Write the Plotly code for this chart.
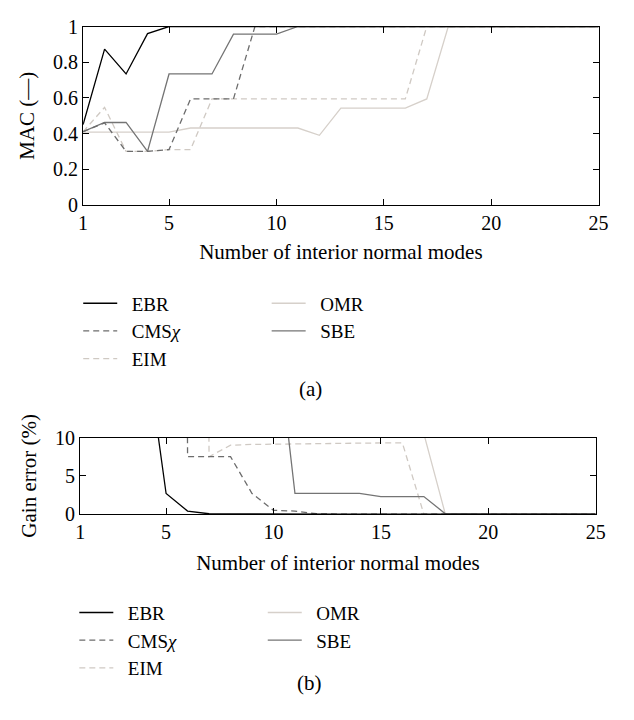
import plotly.graph_objects as go

W, H = 634, 720
FONT = "Liberation Serif"

# ---------------- data ----------------
modes = list(range(1, 26))

# (a) MAC
mac_ebr = [0.45, 0.873, 0.734, 0.96] + [1.0] * 21
mac_cms = [0.41, 0.46, 0.30, 0.30, 0.31, 0.594, 0.594, 0.594] + [1.0] * 17
mac_eim = [0.41, 0.547, 0.30, 0.30, 0.31, 0.31] + [0.594] * 10 + [1.0] * 9
mac_omr = [0.408] * 5 + [0.431] * 6 + [0.39, 0.543, 0.543, 0.543, 0.543, 0.594] + [1.0] * 8
mac_sbe = [0.41, 0.462, 0.462, 0.30, 0.734, 0.734, 0.734, 0.957, 0.957, 0.957] + [1.0] * 15

# (b) Gain error (%), values above 10 run off the top of the axis
gain_ebr = [60, 45, 35, 23, 2.7, 0.4, 0.05, 0.02] + [0.0] * 17
gain_cms = [500, 500, 500, 500, 500, 7.5, 7.5, 7.5, 2.7, 0.5, 0.4, 0.05] + [0.0] * 13
gain_eim = [500, 500, 500, 500, 500, 500, 7.5, 9.0, 9.1, 9.15, 9.2, 9.2, 9.25, 9.25, 9.3, 9.3] + [0.0] * 9
gain_omr = [500] * 16 + [10.5] + [0.0] * 8
gain_sbe = [500] * 9 + [27, 2.7, 2.7, 2.7, 2.7, 2.3, 2.3, 2.3, 0.05] + [0.0] * 7

x_ticks = [1, 5, 10, 15, 20, 25]
mac_ticks = [0, 0.2, 0.4, 0.6, 0.8, 1.0]
mac_ticktext = ["0", "0.2", "0.4", "0.6", "0.8", "1"]
gain_ticks = [0, 5, 10]

names = ["EBR", "CMS<i>χ</i>", "EIM", "OMR", "SBE"]
colors = ["#000000", "#6c6c6c", "#cfc9c3", "#d6d0ca", "#747474"]
dashes = ["solid", "6px,4px", "6px,4px", "solid", "solid"]

mac_series = [mac_ebr, mac_cms, mac_eim, mac_omr, mac_sbe]
gain_series = [gain_ebr, gain_cms, gain_eim, gain_omr, gain_sbe]

NB = "\u00a0\u00a0"
TICK_SIZE = 20
TITLE_SIZE = 21
LEG_SIZE = 19

fig = go.Figure()

# draw order: light lines first so dark ones stay on top
draw_order = [3, 2, 4, 1, 0]
for i in draw_order:
    leg_top = "legend" if i < 3 else "legend2"
    fig.add_trace(go.Scatter(
        x=modes, y=mac_series[i], mode="lines", name=NB + names[i],
        line=dict(color=colors[i], width=1.3, dash=dashes[i]),
        xaxis="x", yaxis="y", legend=leg_top, legendrank=i + 1,
    ))
for i in draw_order:
    leg_bot = "legend3" if i < 3 else "legend4"
    fig.add_trace(go.Scatter(
        x=modes, y=gain_series[i], mode="lines", name=NB + names[i],
        line=dict(color=colors[i], width=1.3, dash=dashes[i]),
        xaxis="x2", yaxis="y2", legend=leg_bot, legendrank=i + 1,
    ))

def px_x(p):
    return p / W

def px_y(p):
    return 1 - p / H

axis_common = dict(
    showline=True, linecolor="black", linewidth=1.2, mirror="ticks",
    ticks="inside", ticklen=6, tickwidth=1.2, tickcolor="black",
    showgrid=False, zeroline=False,
    tickfont=dict(family=FONT, size=TICK_SIZE, color="black"),
)
title_font = dict(family=FONT, size=TITLE_SIZE, color="black")

fig.update_layout(
    width=W, height=H,
    margin=dict(l=0, r=0, t=0, b=0),
    paper_bgcolor="white", plot_bgcolor="white",
    font=dict(family=FONT, size=TICK_SIZE, color="black"),
    xaxis=dict(
        domain=[px_x(80), px_x(608)], range=[1, 25], tickvals=x_ticks,
        anchor="y",
        title=dict(text="Number of interior normal modes", standoff=11, font=title_font),
        **axis_common,
    ),
    yaxis=dict(
        domain=[px_y(200), px_y(16)], range=[0, 1], tickvals=mac_ticks,
        ticktext=mac_ticktext, anchor="x",
        title=dict(text="MAC (—)", standoff=12, font=title_font),
        **axis_common,
    ),
    xaxis2=dict(
        domain=[px_x(77), px_x(605)], range=[1, 25], tickvals=x_ticks,
        anchor="y2",
        title=dict(text="Number of interior normal modes", standoff=13, font=title_font),
        **axis_common,
    ),
    yaxis2=dict(
        domain=[px_y(519), px_y(440)], range=[0, 10], tickvals=gain_ticks,
        anchor="x2",
        title=dict(text="Gain error (%)", standoff=12, font=title_font),
        **axis_common,
    ),
    showlegend=True,
)

leg_common = dict(
    orientation="v", xanchor="left", yanchor="top",
    bgcolor="rgba(0,0,0,0)", borderwidth=0,
    font=dict(family=FONT, size=LEG_SIZE, color="black"),
    tracegroupgap=0, itemwidth=34, traceorder="normal",
)
fig.update_layout(
    legend=dict(x=px_x(75), y=px_y(282), **leg_common),
    legend2=dict(x=px_x(268), y=px_y(282), **leg_common),
    legend3=dict(x=px_x(71), y=px_y(601), **leg_common),
    legend4=dict(x=px_x(264), y=px_y(601), **leg_common),
)

fig.add_annotation(text="(a)", x=px_x(313), y=px_y(390), xref="paper", yref="paper",
                   showarrow=False, font=dict(family=FONT, size=TITLE_SIZE, color="black"))
fig.add_annotation(text="(b)", x=px_x(312), y=px_y(708), xref="paper", yref="paper",
                   showarrow=False, font=dict(family=FONT, size=TITLE_SIZE, color="black"))

fig.write_html("out.html")
